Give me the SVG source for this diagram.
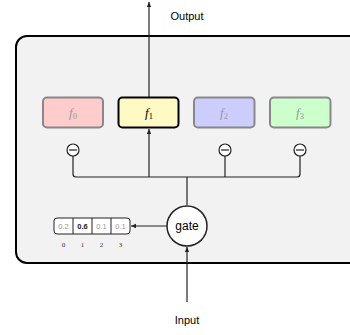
<svg xmlns="http://www.w3.org/2000/svg" width="350" height="335" viewBox="0 0 350 335">
<defs>
<marker id="arr" viewBox="0 0 8 8" refX="7" refY="4" markerWidth="5" markerHeight="5" orient="auto-start-reverse">
<path d="M0,1 L7,4 L0,7 z" fill="#222"/>
</marker>
<style>
.lbl{font-family:"Liberation Sans",Arial,sans-serif;font-size:11px;fill:#000;text-anchor:middle}
.fx{font-family:"Liberation Serif","Times New Roman",serif;font-style:italic;font-size:13px;text-anchor:middle}
.sub{font-style:normal;font-size:8.5px}
.box{stroke:#888;stroke-width:2}
.conn{fill:none;stroke:#222;stroke-width:1.2}
.minus{fill:#fff;stroke:#222;stroke-width:1.2}
.cell{font-family:"Liberation Sans",Arial,sans-serif;font-size:7.5px;text-anchor:middle;fill:#999}
.idx{font-family:"Liberation Serif","Times New Roman",serif;font-size:7px;text-anchor:middle;fill:#333}
</style>
</defs>
<rect x="0" y="0" width="350" height="335" fill="#fff"/>
<g id="container">
<rect x="16" y="36" width="345" height="227" rx="11" fill="#f2f2f2" stroke="#000" stroke-width="2"/>
</g>
<g id="connectors">
<line x1="149" y1="97" x2="149" y2="2" class="conn" marker-end="url(#arr)"/>
<path d="M73,156 V174 Q73,177 76,177 H297 Q300,177 300,174 V156" class="conn"/>
<line x1="225" y1="156" x2="225" y2="177" class="conn"/>
<line x1="149" y1="177" x2="149" y2="129" class="conn" marker-end="url(#arr)"/>
<line x1="187" y1="177" x2="187" y2="205" class="conn"/>
<line x1="167" y1="226" x2="131" y2="226" class="conn" marker-end="url(#arr)"/>
<line x1="187" y1="302" x2="187" y2="247" class="conn" marker-end="url(#arr)"/>
</g>
<g id="f0">
<rect x="43" y="97.5" width="60" height="30" rx="4" fill="#ffcccc" class="box"/>
<text x="73" y="117" class="fx" style="fill:#999">f<tspan class="sub" dy="2">0</tspan></text>
</g>
<g id="f1">
<rect x="118.5" y="97.5" width="60" height="30" rx="4" fill="#fff9c4" stroke="#000" stroke-width="2"/>
<text x="149" y="117" class="fx" style="fill:#000">f<tspan class="sub" dy="2">1</tspan></text>
</g>
<g id="f2">
<rect x="194" y="97.5" width="60.5" height="30" rx="4" fill="#ccccff" class="box"/>
<text x="224" y="117" class="fx" style="fill:#999">f<tspan class="sub" dy="2">2</tspan></text>
</g>
<g id="f3">
<rect x="270" y="97.5" width="60.5" height="30" rx="4" fill="#ccffcc" class="box"/>
<text x="300" y="117" class="fx" style="fill:#999">f<tspan class="sub" dy="2">3</tspan></text>
</g>
<g id="m0"><circle cx="73" cy="150" r="6" class="minus"/><line x1="69" y1="150" x2="77" y2="150" stroke="#222" stroke-width="1.2"/></g>
<g id="m2"><circle cx="225" cy="150" r="6" class="minus"/><line x1="221" y1="150" x2="229" y2="150" stroke="#222" stroke-width="1.2"/></g>
<g id="m3"><circle cx="300" cy="150" r="6" class="minus"/><line x1="296" y1="150" x2="304" y2="150" stroke="#222" stroke-width="1.2"/></g>
<g id="gate">
<circle cx="187" cy="226" r="20" fill="#fff" stroke="#222" stroke-width="1.5"/>
<text x="187" y="230" class="lbl" style="font-size:12px">gate</text>
</g>
<g id="vector">
<rect x="54" y="218" width="76" height="16" rx="3" fill="#fff" stroke="#222" stroke-width="1"/>
<line x1="73" y1="218" x2="73" y2="234" stroke="#222" stroke-width="1"/>
<line x1="92" y1="218" x2="92" y2="234" stroke="#222" stroke-width="1"/>
<line x1="111" y1="218" x2="111" y2="234" stroke="#222" stroke-width="1"/>
<text x="63.5" y="228.5" class="cell">0.2</text>
<text x="82.5" y="228.5" class="cell" style="fill:#222;font-weight:bold">0.6</text>
<text x="101.5" y="228.5" class="cell">0.1</text>
<text x="120.5" y="228.5" class="cell">0.1</text>
<text x="63.5" y="247" class="idx">0</text>
<text x="82.5" y="247" class="idx">1</text>
<text x="101.5" y="247" class="idx">2</text>
<text x="120.5" y="247" class="idx">3</text>
</g>
<text x="187" y="20" class="lbl">Output</text>
<text x="187" y="324" class="lbl">Input</text>
</svg>
